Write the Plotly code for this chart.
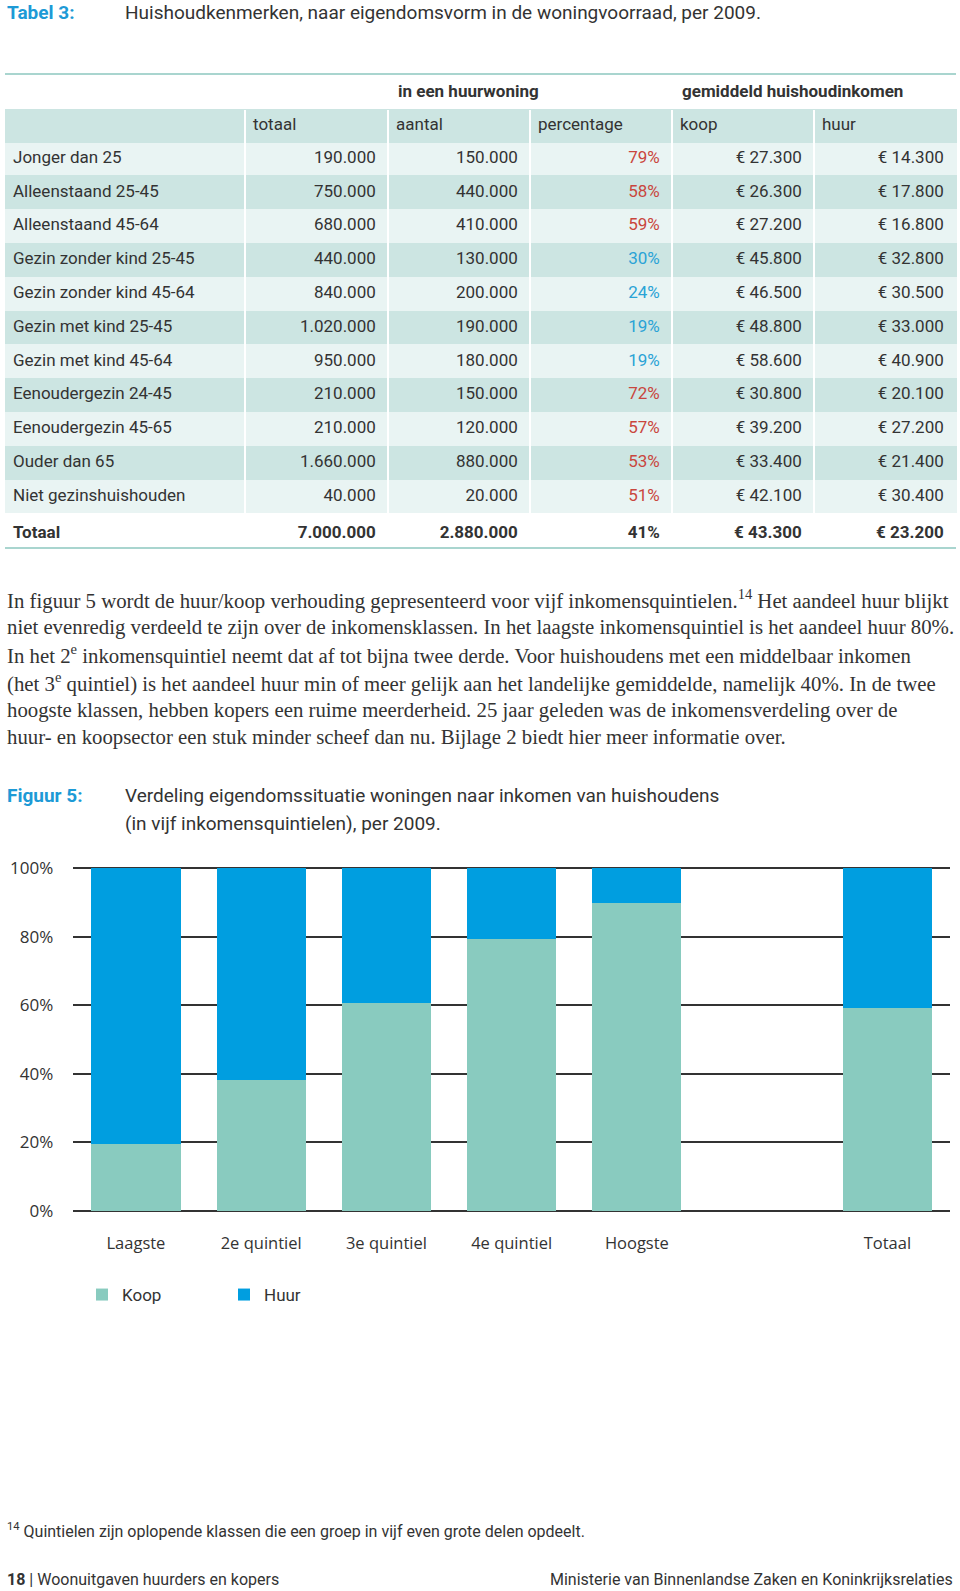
import plotly.graph_objects as go

W, H = 960, 1591

# ---------------- data: table ----------------
huishoudens = ["Jonger dan 25", "Alleenstaand 25-45", "Alleenstaand 45-64",
               "Gezin zonder kind 25-45", "Gezin zonder kind 45-64",
               "Gezin met kind 25-45", "Gezin met kind 45-64",
               "Eenoudergezin 24-45", "Eenoudergezin 45-65",
               "Ouder dan 65", "Niet gezinshuishouden"]
totaal = [190000, 750000, 680000, 440000, 840000, 1020000, 950000,
          210000, 210000, 1660000, 40000]
huur_aantal = [150000, 440000, 410000, 130000, 200000, 190000, 180000,
               150000, 120000, 880000, 20000]
huur_percentage = [79, 58, 59, 30, 24, 19, 19, 72, 57, 53, 51]
inkomen_koop = [27300, 26300, 27200, 45800, 46500, 48800, 58600,
                30800, 39200, 33400, 42100]
inkomen_huur = [14300, 17800, 16800, 32800, 30500, 33000, 40900,
                20100, 27200, 21400, 30400]
totaal_rij = {"label": "Totaal", "totaal": 7000000, "aantal": 2880000,
              "percentage": 41, "koop": 43300, "huur": 23200}
tabel_kolommen = ["", "totaal", "aantal", "percentage", "koop", "huur"]

# ---------------- data: chart ----------------
quintielen = ["Laagste", "2e quintiel", "3e quintiel", "4e quintiel", "Hoogste", "Totaal"]
koop = [19.4, 38.3, 60.7, 79.4, 89.8, 59.2]
huur = [100 - v for v in koop]
as_categorie = ["Laagste", "2e quintiel", "3e quintiel", "4e quintiel", "Hoogste", " ", "Totaal"]
y_ticks = [0, 20, 40, 60, 80, 100]

# ---------------- styles ----------------
SANS = "Roboto, 'Open Sans', sans-serif"
CHART_FONT = "'Open Sans', Roboto, sans-serif"
SERIF = "'Liberation Serif', 'DejaVu Serif', serif"
TXT = "#333333"
BLUE_TITLE = "#1d9ad6"
RED = "#c9463d"
PCT_BLUE = "#2aa3d6"
LIGHT = "#e9f4f3"
DARK = "#cce5e2"
RULE = "#a9d5cf"
KOOP_C = "#89cbbf"
HUUR_C = "#009ee0"
NB = "\u00a0"


def px(x):
    return x / W


def py(y):
    return 1 - y / H


def nl(v):
    return f"{v:,}".replace(",", ".")


fig = go.Figure()

# ---------------- table ----------------
n = len(huishoudens)
col_label = huishoudens + [f"<b>{totaal_rij['label']}</b>"]
col_tot = [nl(v) + NB for v in totaal] + [f"<b>{nl(totaal_rij['totaal'])}</b>" + NB]
col_aan = [nl(v) + NB for v in huur_aantal] + [f"<b>{nl(totaal_rij['aantal'])}</b>" + NB]
col_pct = [f"{v}%" + NB for v in huur_percentage] + [f"<b>{totaal_rij['percentage']}%</b>" + NB]
col_koop = [f"€ {nl(v)}" + NB for v in inkomen_koop] + [f"<b>€ {nl(totaal_rij['koop'])}</b>" + NB]
col_huur = [f"€ {nl(v)}" + NB for v in inkomen_huur] + [f"<b>€ {nl(totaal_rij['huur'])}</b>" + NB]

row_fill = [LIGHT if i % 2 == 0 else DARK for i in range(n)] + ["white"]
pct_colors = [RED if v >= 50 else PCT_BLUE for v in huur_percentage] + [TXT]
plain_colors = [TXT] * (n + 1)

colwidths = [240, 143, 142, 142, 142, 142]
tab_x0, tab_x1 = 5, 956

fig.add_trace(go.Table(
    domain=dict(x=[px(tab_x0), px(tab_x1)], y=[py(551), py(109)]),
    columnwidth=colwidths,
    header=dict(values=tabel_kolommen, align="left", height=33,
                fill=dict(color=DARK), line=dict(color=DARK, width=1),
                font=dict(family=SANS, size=17, color=TXT)),
    cells=dict(values=[col_label, col_tot, col_aan, col_pct, col_koop, col_huur],
               align=["left", "right", "right", "right", "right", "right"],
               height=33.8,
               fill=dict(color=[row_fill] * 6),
               line=dict(color=[row_fill] * 6, width=1),
               font=dict(family=SANS, size=17,
                         color=[plain_colors, plain_colors, plain_colors,
                                pct_colors, plain_colors, plain_colors])),
))

# vertical white separators between table columns
scale = (tab_x1 - tab_x0) / sum(colwidths)
edges = [tab_x0]
for w in colwidths:
    edges.append(edges[-1] + w * scale)
for e in edges[1:-1]:
    fig.add_shape(type="line", xref="paper", yref="paper",
                  x0=px(e), x1=px(e), y0=py(548), y1=py(110),
                  line=dict(color="white", width=2), layer="above")

# rules
for yy in (74, 548):
    fig.add_shape(type="line", xref="paper", yref="paper",
                  x0=px(5), x1=px(956), y0=py(yy), y1=py(yy),
                  line=dict(color=RULE, width=2))

# spanning headers
for text, col in (("in een huurwoning", 2), ("gemiddeld huishoudinkomen", 4)):
    fig.add_annotation(x=px(edges[col] + 8), y=py(91), xref="paper", yref="paper",
                       xanchor="left", yanchor="middle", showarrow=False,
                       text=f"<b>{text}</b>", font=dict(family=SANS, size=17, color=TXT))

# ---------------- chart ----------------
fig.add_trace(go.Bar(name="Koop", x=quintielen, y=koop, marker=dict(color=KOOP_C, line=dict(width=0))))
fig.add_trace(go.Bar(name="Huur", x=quintielen, y=huur, marker=dict(color=HUUR_C, line=dict(width=0))))

# y axis: 0..100 spans 1210.7..868.3 px, range padded so the end gridlines are drawn
y0px, y100px = 1210.7, 868.3
pad = 0.5
unit = (y0px - y100px) / 100

fig.update_layout(
    width=W, height=H, margin=dict(l=0, r=0, t=0, b=0), autosize=False,
    paper_bgcolor="white", plot_bgcolor="white",
    barmode="stack", bargap=0.288,
    showlegend=True,
    legend=dict(orientation="h", x=px(82), y=py(1295), xanchor="left", yanchor="middle",
                font=dict(family=SANS, size=17, color=TXT), entrywidth=97,
                bgcolor="rgba(0,0,0,0)", traceorder="normal"),
    xaxis=dict(domain=[px(73.3), px(950)], categoryorder="array", categoryarray=as_categorie,
               range=[-0.5, 6.5], showgrid=False, zeroline=False, showline=False,
               ticks="", ticklabelstandoff=19, automargin=False,
               tickfont=dict(family=CHART_FONT, size=16.5, color=TXT)),
    yaxis=dict(domain=[py(y0px + pad * unit), py(y100px - pad * unit)], range=[-pad, 100 + pad],
               tickmode="array", tickvals=y_ticks, ticktext=[f"{v}%" for v in y_ticks],
               showgrid=True, gridcolor="#333333", gridwidth=1.6,
               zeroline=False, showline=False, ticks="", ticklabelstandoff=19,
               automargin=False, tickfont=dict(family=CHART_FONT, size=17, color=TXT)),
)

# ---------------- text ----------------
def ann(x, y, text, size=16, color=TXT, family=SANS, anchor="left"):
    fig.add_annotation(x=px(x), y=py(y), xref="paper", yref="paper", xanchor=anchor,
                       yanchor="middle", showarrow=False, text=text,
                       font=dict(family=family, size=size, color=color))

ann(5, 13, "<b>Tabel 3:</b>", size=19, color=BLUE_TITLE)
ann(123, 13, "Huishoudkenmerken, naar eigendomsvorm in de woningvoorraad, per 2009.", size=19)

para = [
    "In figuur 5 wordt de huur/koop verhouding gepresenteerd voor vijf inkomensquintielen.<sup>14</sup> Het aandeel huur blijkt",
    "niet evenredig verdeeld te zijn over de inkomensklassen. In het laagste inkomensquintiel is het aandeel huur 80%.",
    "In het 2<sup>e</sup> inkomensquintiel neemt dat af tot bijna twee derde. Voor huishoudens met een middelbaar inkomen",
    "(het 3<sup>e</sup> quintiel) is het aandeel huur min of meer gelijk aan het landelijke gemiddelde, namelijk 40%. In de twee",
    "hoogste klassen, hebben kopers een ruime meerderheid. 25 jaar geleden was de inkomensverdeling over de",
    "huur- en koopsector een stuk minder scheef dan nu. Bijlage 2 biedt hier meer informatie over.",
]
for i, line in enumerate(para):
    ann(5, 599 + i * 27.7, line, size=20.8, family=SERIF)

ann(5, 795, "<b>Figuur 5:</b>", size=19, color=BLUE_TITLE)
ann(123, 795, "Verdeling eigendomssituatie woningen naar inkomen van huishoudens", size=19)
ann(123, 823, "(in vijf inkomensquintielen), per 2009.", size=19)

ann(5, 1530, "<sup>14</sup> Quintielen zijn oplopende klassen die een groep in vijf even grote delen opdeelt.", size=16)
ann(5, 1579, "<b>18</b> | Woonuitgaven huurders en kopers", size=16)
ann(955, 1579, "Ministerie van Binnenlandse Zaken en Koninkrijksrelaties", size=16, anchor="right")

fig.write_html("out.html", config={"displayModeBar": False},
               post_script="document.body.style.margin='0';document.body.style.overflow='hidden';")
